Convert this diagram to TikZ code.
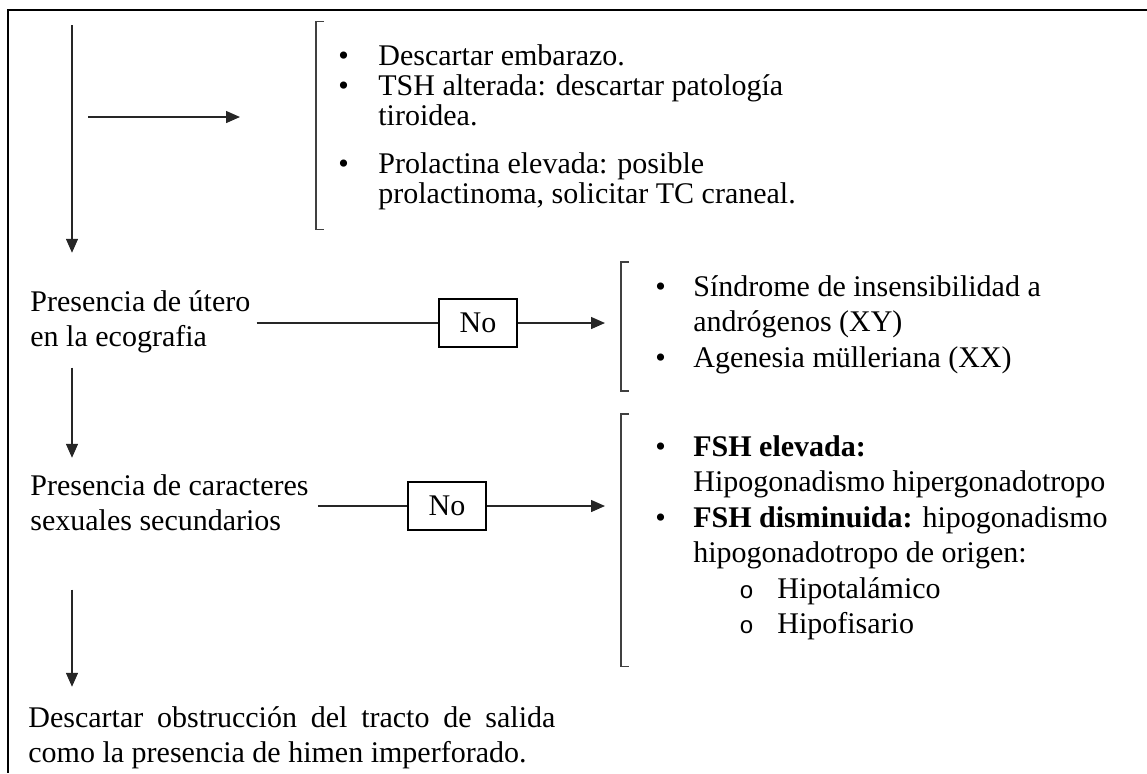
\documentclass[tikz,border=0pt]{standalone}
\usepackage{fontspec}
\setmainfont{Liberation Serif}
\newfontfamily\monofont{Liberation Mono}
\usetikzlibrary{arrows.meta}
\tikzstyle{txt} = [inner sep=0pt, anchor=base west, font=\fontsize{15}{17.75}\selectfont]
\tikzstyle{listbox} = [inner sep=0pt, anchor=base west, font=\fontsize{15}{17.75}\selectfont]
\tikzstyle{nobox} = [rectangle, draw=black, line width=0.8pt, minimum width=39pt, minimum height=24pt, inner sep=0pt, font=\fontsize{15}{17.75}\selectfont]
\tikzstyle{line} = [line width=0.7pt, draw=black!85]
\tikzstyle{arrow} = [line, -{Triangle[length=7pt,width=6pt]}]
\tikzstyle{bracket} = [line width=0.8pt, draw=black!75]
\tikzstyle{frame} = [line width=1pt, draw=black]
\newcommand{\bul}[2]{\makebox[#1][l]{\hspace*{#2}\textbullet}}
\newcommand{\subbul}{\hspace*{23pt}\makebox[19pt][l]{{\monofont\fontsize{12}{12}\selectfont o}}}
\newcommand{\brk}[3]{\draw[bracket] ([xshift=4pt,yshift=#2]#1.north west) -- ([yshift=#2]#1.north west) -- ([yshift=-#3]#1.south west) -- ++(4pt,0);}

\begin{document}
\begin{tikzpicture}[x=0.5pt, y=-0.5pt]
\useasboundingbox (0,0) rectangle (1147,773);

\draw[frame] (1147,10) -- (8,10) -- (8,773);

\coordinate (start) at (72,25);
\coordinate (side) at (88,117);

\node (list1) [listbox, font=\fontsize{15}{15}\selectfont] at (316,65) {\begin{tabular}[t]{@{}l@{}l@{}}
\bul{31pt}{11pt} & Descartar embarazo.\\
\bul{31pt}{11pt} & TSH alterada: descartar patología\\
 & tiroidea.\\[9pt]
\bul{31pt}{11pt} & Prolactina elevada: posible\\
 & prolactinoma, solicitar TC craneal.
\end{tabular}};

\node (utero) [txt] at (30,311) {\begin{tabular}[t]{@{}l@{}}Presencia de útero\\ en la ecografia\end{tabular}};
\node (no1) [nobox] at (478,323) {No};
\node (list2) [listbox] at (621,296) {\begin{tabular}[t]{@{}l@{}l@{}}
\bul{36pt}{17pt} & Síndrome de insensibilidad a\\
 & andrógenos (XY)\\
\bul{36pt}{17pt} & Agenesia mülleriana (XX)
\end{tabular}};

\node (caract) [txt] at (30,495) {\begin{tabular}[t]{@{}l@{}}Presencia de caracteres\\ sexuales secundarios\end{tabular}};
\node (no2) [nobox] at (447,506) {No};
\node (list3) [listbox] at (621,456) {\begin{tabular}[t]{@{}l@{}l@{}}
\bul{36pt}{17pt} & \textbf{FSH elevada:}\\
 & Hipogonadismo hipergonadotropo\\
\bul{36pt}{17pt} & \textbf{FSH disminuida:} hipogonadismo\\
 & hipogonadotropo de origen:\\
 & \subbul Hipotalámico\\
 & \subbul Hipofisario
\end{tabular}};

\node (salida) [txt] at (28,727) {\begin{tabular}[t]{@{}l@{}}\makebox[263.5pt][s]{Descartar obstrucción del tracto de salida}\\ como la presencia de himen imperforado.\end{tabular}};

\brk{list1}{11pt}{8.5pt}
\brk{list2}{4.5pt}{6.5pt}
\brk{list3}{8.5pt}{11pt}

\draw[arrow, shorten >=16.5pt] (start) -- (start |- utero.north);
\draw[arrow, shorten >=38pt] (side) -- (side -| list1.west);
\draw[line, shorten <=3pt] (utero.east |- no1) -- (no1);
\draw[arrow, shorten >=8pt] (no1) -- (no1 -| list2.west);
\draw[line, shorten <=4.5pt] (caract.east |- no2) -- (no2);
\draw[arrow, shorten >=8pt] (no2) -- (no2 -| list3.west);
\draw[arrow, shorten <=5pt, shorten >=6pt] (utero.south -| start) -- (caract.north -| start);
\draw[arrow, shorten <=24pt, shorten >=7.5pt] (caract.south -| start) -- (salida.north -| start);

\end{tikzpicture}
\end{document}
